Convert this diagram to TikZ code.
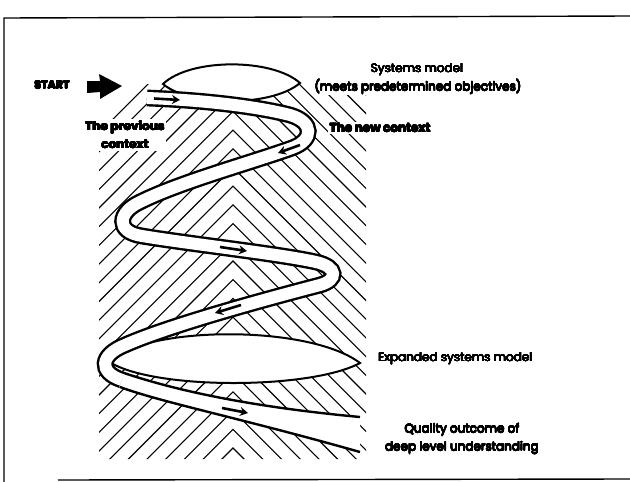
\documentclass[tikz,border=0pt]{standalone}
\usepackage{fontspec}
\setmainfont{Poppins}
\usepackage{contour}
\contournumber{16}
\newcommand{\thk}[1]{{\contourlength{0.2pt}\contour{black}{#1}}}
\newcommand{\hvy}[1]{{\contourlength{0.32pt}\contour{black}{#1}}}
\usetikzlibrary{arrows.meta}
\begin{document}
\begin{tikzpicture}[x=1pt,y=-1pt,
  hatch/.style={line width=1.1pt},
  frameline/.style={line width=1.4pt},
  lens/.style={draw, fill=white, line width=2pt},
  ribbon/.style={draw=black, line width=2.4pt, double=white, double distance=12pt},
  ribbonedge/.style={line width=2.4pt},
  flowmark/.style={line width=2.6pt, -{Stealth[length=8pt,width=9pt]}},
  lbl/.style={font=\fontsize{12}{18}\selectfont, inner sep=1pt, align=center},
  blbl/.style={font=\fontsize{12}{18}\selectfont\bfseries, inner sep=1.5pt, align=center, fill=white},
]
\useasboundingbox (0,0) rectangle (630,482);
% frame
\draw[frameline] (4,482) -- (4,18) -- (630,16);
\draw[frameline] (58,480) -- (630,479);
% hatching
\begin{scope}
  \clip (99,120) -- (143,84) -- (366,84) -- (366,459) -- (99,459) -- cycle;
  \foreach \k in {-1,...,27}{
    \pgfmathsetmacro\ay{448-18.7*\k}
    \draw[hatch] (-67,\ay+300) -- (233,\ay) -- (533,\ay+300);
  }
\end{scope}
% ellipses
\draw[lens] (163,84) .. controls (190,58) and (272,58) .. (300,83) .. controls (272,107) and (190,107) .. (163,84) -- cycle;
\draw[lens] (108,361) .. controls (150,325) and (310,325) .. (360,363) .. controls (310,390) and (150,390) .. (108,361) -- cycle;
% ribbon
\draw[ribbon] (147,98) .. controls (200,100) and (255,106) .. (290,115)
  .. controls (314,122) and (314,140) .. (292,148)
  .. controls (250,163) and (180,182) .. (140,202)
  .. controls (118,212) and (115,232) .. (142,236)
  .. controls (190,244) and (280,254) .. (316,262)
  .. controls (338,267) and (338,280) .. (320,285)
  .. controls (270,298) and (170,325) .. (125,345)
  .. controls (100,355) and (98,372) .. (122,380);
\fill[white] (124.3,373.1) .. controls (160,385) and (230,405) .. (360,417) -- (360,452) .. controls (240,418) and (160,402) .. (119.7,386.9) -- cycle;
\draw[ribbonedge] (124.3,373.1) .. controls (160,385) and (230,405) .. (360,417);
\draw[ribbonedge] (119.7,386.9) .. controls (160,402) and (240,418) .. (360,452);
% flow marks
\draw[flowmark] (154,98.5) -- (180,100);
\draw[flowmark] (300,145) -- (278,153);
\draw[flowmark] (220,247) -- (247,251);
\draw[flowmark] (241,305) -- (215,313);
\draw[flowmark] (222,408) -- (248,413);
% start arrow
\fill (87,81) -- (100,81) -- (99,74) -- (122,86) -- (100,99) -- (100,92) -- (87,93) -- cycle;
% labels
\node[font=\fontsize{11}{13}\selectfont\bfseries, inner sep=1pt] (start) at (52,85) {\hvy{START}};
\node[lbl] (sysmodel) at (417,70) {\thk{Systems model}};
\node[lbl, fill=white] (meets) at (418,87) {\thk{(meets predetermined objectives)}};
\node[blbl, anchor=west] (newctx) at (328,128) {\hvy{The new context}};
\node[blbl] (prevctx) at (125,135) {\hvy{The previous}\\\hvy{context}};
\node[lbl, anchor=west] (expanded) at (377,359) {\thk{Expanded systems model}};
\node[lbl] (quality) at (462,439) {\thk{Quality outcome of}\\\thk{deep level understanding}};
\end{tikzpicture}
\end{document}
